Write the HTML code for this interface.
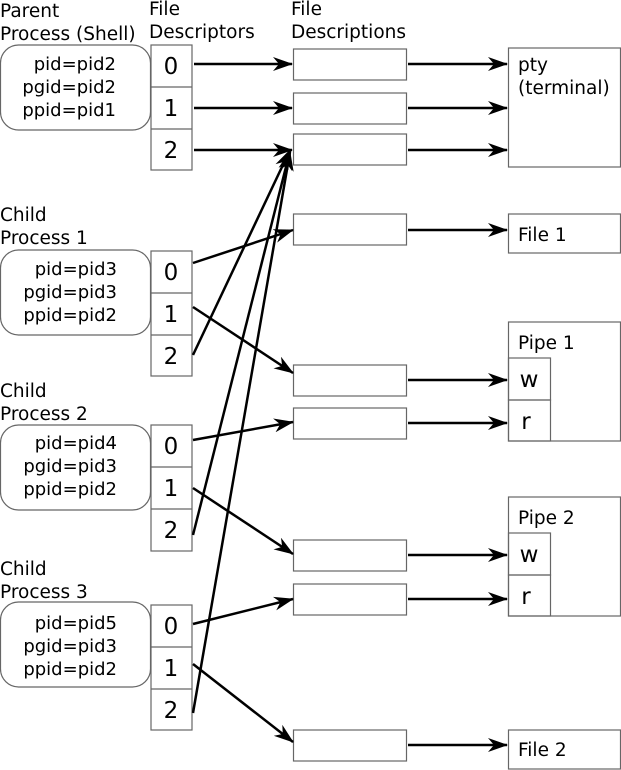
<!DOCTYPE html>
<html><head><style>body{margin:0;background:#fff}svg{display:block}text{font-family:"DejaVu Sans","Liberation Sans",sans-serif;fill:#000}
.l{font-size:18.5px}.p{font-size:18px}.d{font-size:23px}</style></head>
<body>
<svg width="621" height="770" viewBox="0 0 621 770" xmlns="http://www.w3.org/2000/svg">
<defs><marker id="a" viewBox="0 0 20 14" refX="19" refY="7" markerWidth="20" markerHeight="14" markerUnits="userSpaceOnUse" orient="auto"><path d="M0,0 L20,7 L0,14 L6,7 z" fill="#000"/></marker></defs>
<g class="l">
<text x="0" y="17">Parent</text><text x="0" y="40">Process (Shell)</text>
<text x="149" y="15">File</text><text x="149" y="38">Descriptors</text>
<text x="291" y="15">File</text><text x="291" y="38">Descriptions</text>
<text x="0" y="221">Child</text><text x="0" y="244">Process 1</text>
<text x="0" y="397">Child</text><text x="0" y="420">Process 2</text>
<text x="0" y="575">Child</text><text x="0" y="598">Process 3</text>
</g>
<g fill="none" stroke="#666" stroke-width="1.2">
<rect x="0.5" y="45" width="150" height="85" rx="18"/>
<rect x="0.5" y="250" width="150" height="85" rx="18"/>
<rect x="0.5" y="425" width="150" height="85" rx="18"/>
<rect x="0.5" y="602" width="150" height="85" rx="18"/>
<rect x="151" y="45" width="41" height="125" fill="#fff"/><line x1="151" y1="87" x2="192" y2="87"/><line x1="151" y1="129" x2="192" y2="129"/>
<rect x="151" y="251" width="41" height="125" fill="#fff"/><line x1="151" y1="293" x2="192" y2="293"/><line x1="151" y1="335" x2="192" y2="335"/>
<rect x="151" y="425" width="41" height="126" fill="#fff"/><line x1="151" y1="467" x2="192" y2="467"/><line x1="151" y1="509" x2="192" y2="509"/>
<rect x="151" y="605" width="41" height="125" fill="#fff"/><line x1="151" y1="647" x2="192" y2="647"/><line x1="151" y1="689" x2="192" y2="689"/>
<rect x="293.5" y="49" width="113" height="31"/><rect x="293.5" y="93" width="113" height="31"/><rect x="293.5" y="134" width="113" height="31"/>
<rect x="293.5" y="214" width="113" height="31"/><rect x="293.5" y="365" width="113" height="31"/><rect x="293.5" y="408" width="113" height="31"/>
<rect x="293.5" y="540" width="113" height="31"/><rect x="293.5" y="584" width="113" height="31"/><rect x="293.5" y="730" width="113" height="31"/>
<rect x="508.5" y="48" width="112" height="119"/><rect x="508.5" y="214" width="112" height="39"/>
<rect x="508.5" y="322" width="112" height="119"/><rect x="508.5" y="358" width="42" height="42"/><rect x="508.5" y="400" width="42" height="41"/>
<rect x="508.5" y="497" width="112" height="119"/><rect x="508.5" y="533" width="42" height="42"/><rect x="508.5" y="575" width="42" height="41"/>
<rect x="508.5" y="730" width="112" height="39"/>
</g>
<g class="p" text-anchor="end">
<text x="116" y="70">pid=pid2</text><text x="116" y="93">pgid=pid2</text><text x="116" y="116">ppid=pid1</text>
<text x="117" y="275">pid=pid3</text><text x="117" y="298">pgid=pid3</text><text x="117" y="321">ppid=pid2</text>
<text x="117" y="449">pid=pid4</text><text x="117" y="472">pgid=pid3</text><text x="117" y="495">ppid=pid2</text>
<text x="117" y="629">pid=pid5</text><text x="117" y="652">pgid=pid3</text><text x="117" y="675">ppid=pid2</text>
</g>
<g class="d" text-anchor="middle">
<text x="171" y="74">0</text><text x="171" y="116">1</text><text x="171" y="158">2</text>
<text x="171" y="280">0</text><text x="171" y="322">1</text><text x="171" y="364">2</text>
<text x="171" y="454">0</text><text x="171" y="496">1</text><text x="171" y="538">2</text>
<text x="171" y="634">0</text><text x="171" y="676">1</text><text x="171" y="718">2</text>
<text x="529" y="387">w</text><text x="526" y="429">r</text>
<text x="529" y="562">w</text><text x="526" y="604">r</text>
</g>
<g class="l">
<text x="518" y="71">pty</text><text x="518" y="94">(terminal)</text>
<text x="518" y="241">File 1</text><text x="518" y="349">Pipe 1</text><text x="518" y="524">Pipe 2</text><text x="518" y="756">File 2</text>
</g>
<g stroke="#000" stroke-width="2.5" marker-end="url(#a)">
<line x1="194" y1="64" x2="292" y2="64"/><line x1="194" y1="108" x2="292" y2="108"/><line x1="194" y1="150" x2="292" y2="150"/>
<line x1="408" y1="64" x2="507" y2="64"/><line x1="408" y1="108" x2="507" y2="108"/><line x1="408" y1="150" x2="507" y2="150"/>
<line x1="408" y1="230" x2="507" y2="230"/><line x1="408" y1="380" x2="507" y2="380"/><line x1="408" y1="423" x2="507" y2="423"/>
<line x1="408" y1="555" x2="507" y2="555"/><line x1="408" y1="599" x2="507" y2="599"/><line x1="408" y1="745" x2="507" y2="745"/>
<line x1="193" y1="263" x2="293" y2="230"/><line x1="193" y1="307" x2="293" y2="373"/><line x1="193" y1="355" x2="290" y2="150"/>
<line x1="193" y1="440" x2="293" y2="422"/><line x1="193" y1="488" x2="293" y2="554"/><line x1="193" y1="535" x2="290" y2="151"/>
<line x1="193" y1="624" x2="293" y2="599"/><line x1="193" y1="664" x2="293" y2="742"/><line x1="193" y1="713" x2="290" y2="152"/>
</g>
</svg>
</body></html>
